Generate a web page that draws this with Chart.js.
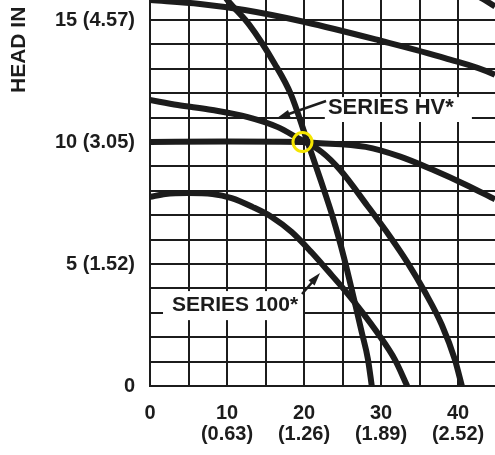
<!DOCTYPE html>
<html>
<head>
<meta charset="utf-8">
<script src="https://cdn.jsdelivr.net/npm/chart.js@4.4.1/dist/chart.umd.min.js"></script>
<style>
  html, body { margin: 0; padding: 0; background: #fff; }
  #wrap { width: 495px; height: 455px; }
</style>
</head>
<body>
<div id="wrap"><canvas id="pumpChart" width="495" height="455"></canvas></div>
<script>
// axis labels (US units with metric in brackets)
const flowTicks = [0, 10, 20, 30, 40];
const flowMetric = ['', '(0.63)', '(1.26)', '(1.89)', '(2.52)'];
const headTicks = [0, 5, 10, 15];
const headMetric = ['', '(1.52)', '(3.05)', '(4.57)'];

// pump curves, [flow, head]
const curveTop = [[0, 15.82], [6.5, 15.66], [12.3, 15.41], [20.1, 14.92], [29.6, 14.18], [38.3, 13.44], [44.8, 12.75], [46, 12.5]];
const curveCorner = [[41, 16.25], [43.3, 15.85], [44.8, 15.55], [46.5, 15.2]];
const curveSteep = [[8.2, 16.6], [10.1, 15.8], [12.9, 14.8], [16.2, 13.2], [18.3, 11.95], [20.3, 10.15], [22.2, 8.4], [23.8, 6.85], [25.2, 5.25], [26.5, 3.55], [27.5, 2.2], [28.3, 1.1], [28.8, 0]];
const curveFlat = [[0, 10.0], [10, 10.02], [19.9, 10.0], [21.2, 9.97], [28, 9.8], [32.5, 9.4], [36.8, 8.85], [41, 8.25], [44.8, 7.65]];
const curveHV = [[0, 11.72], [3.6, 11.52], [8.1, 11.31], [12.7, 11.02], [16.6, 10.61], [19.2, 10.16], [22.3, 9.59], [24.7, 8.85], [28.2, 7.4], [31.2, 6.11], [33.4, 5.08], [35.7, 3.85], [37.9, 2.5], [39.6, 1.07], [40.5, 0]];
const curve100 = [[0, 7.75], [2, 7.87], [4.9, 7.91], [8.1, 7.87], [10.6, 7.7], [13.3, 7.34], [15.8, 6.93], [18.4, 6.31], [21, 5.47], [23.1, 4.72], [25.3, 3.92], [27.5, 3.05], [29.6, 2.15], [31.8, 1.08], [33.4, 0]];
const markedPoint = [[19.8, 10.0]];

const INK = '#1c1c1c';
const FONT = "'Liberation Sans', Arial, sans-serif";

// callouts, in data units
const notes = [
    { text: 'SERIES HV*', size: 22, at: [23.1, 11.39], box: [22.7, 41.8, 11.84, 10.82], arrow: [[22.86, 11.68], [16.5, 10.98]] },
    { text: 'SERIES 100*', size: 21, at: [2.86, 3.32], box: [1.69, 19.87, 3.89, 2.70], arrow: [[19.74, 3.77], [22.08, 4.63]] }
];

function toPoints(list) {
    return list.map(p => ({ x: p[0], y: p[1] }));
}

function pumpLine(list) {
    return {
        data: toPoints(list),
        borderColor: INK,
        borderWidth: 6,
        pointRadius: 0,
        fill: false,
        cubicInterpolationMode: 'monotone'
    };
}

function drawArrow(ctx, x1, y1, x2, y2) {
    const angle = Math.atan2(y2 - y1, x2 - x1);
    const len = 13;
    ctx.beginPath();
    ctx.moveTo(x1, y1);
    ctx.lineTo(x2 - Math.cos(angle) * len * 0.6, y2 - Math.sin(angle) * len * 0.6);
    ctx.stroke();
    ctx.beginPath();
    ctx.moveTo(x2, y2);
    ctx.lineTo(x2 - len * Math.cos(angle) + 4 * Math.sin(angle), y2 - len * Math.sin(angle) - 4 * Math.cos(angle));
    ctx.lineTo(x2 - len * Math.cos(angle) - 4 * Math.sin(angle), y2 - len * Math.sin(angle) + 4 * Math.cos(angle));
    ctx.closePath();
    ctx.fill();
}

const notesPlugin = {
    id: 'pumpNotes',
    beforeDatasetsDraw(chart) {
        const { ctx, scales: { x, y } } = chart;
        ctx.save();
        notes.forEach(n => {
            const left = x.getPixelForValue(n.box[0]);
            const right = x.getPixelForValue(n.box[1]);
            const top = y.getPixelForValue(n.box[2]);
            const bottom = y.getPixelForValue(n.box[3]);
            ctx.fillStyle = '#fff';
            ctx.fillRect(left, top, right - left, bottom - top);
            ctx.fillStyle = INK;
            ctx.font = `bold ${n.size}px ${FONT}`;
            ctx.textBaseline = 'middle';
            ctx.textAlign = 'left';
            ctx.fillText(n.text, x.getPixelForValue(n.at[0]), y.getPixelForValue(n.at[1]));
        });
        ctx.restore();
    },
    afterDatasetsDraw(chart) {
        const { ctx, scales: { x, y } } = chart;
        ctx.save();
        ctx.strokeStyle = INK;
        ctx.fillStyle = INK;
        ctx.lineWidth = 2.5;
        notes.forEach(n => {
            const [from, to] = n.arrow;
            drawArrow(ctx, x.getPixelForValue(from[0]), y.getPixelForValue(from[1]),
                x.getPixelForValue(to[0]), y.getPixelForValue(to[1]));
        });
        ctx.restore();
    },
    afterDraw(chart) {
        // y axis title, cropped at the top like the scan
        const ctx = chart.ctx;
        ctx.save();
        ctx.translate(25, chart.chartArea.top + 93);
        ctx.rotate(-Math.PI / 2);
        ctx.fillStyle = INK;
        ctx.font = `bold 21px ${FONT}`;
        ctx.textAlign = 'left';
        ctx.textBaseline = 'alphabetic';
        ctx.fillText('HEAD IN FEET (METERS)', 0, 0);
        ctx.restore();
    }
};

function drawPumpChart() {
    const ctx = document.getElementById('pumpChart').getContext('2d');

    new Chart(ctx, {
        type: 'line',
        data: {
            datasets: [
                {
                    type: 'scatter',
                    data: toPoints(markedPoint),
                    pointRadius: 9.5,
                    pointBorderWidth: 3,
                    pointBorderColor: 'rgb(245, 230, 0)',
                    pointBackgroundColor: 'rgba(0,0,0,0)',
                    showLine: false
                },
                pumpLine(curveTop),
                pumpLine(curveCorner),
                pumpLine(curveSteep),
                pumpLine(curveFlat),
                pumpLine(curveHV),
                pumpLine(curve100)
            ]
        },
        options: {
            responsive: false,
            animation: false,
            devicePixelRatio: 1,
            layout: { padding: 0, autoPadding: false },
            plugins: {
                legend: { display: false },
                tooltip: { enabled: false }
            },
            scales: {
                x: {
                    type: 'linear',
                    min: 0,
                    max: 44.8,
                    grid: { color: INK, lineWidth: 2, drawTicks: false },
                    border: { color: INK, width: 2 },
                    ticks: {
                        stepSize: 5,
                        includeBounds: false,
                        autoSkip: false,
                        maxRotation: 0,
                        padding: 17,
                        color: INK,
                        font: { family: FONT, size: 20, weight: 'bold', lineHeight: 1.05 },
                        callback: function(value) {
                            const i = flowTicks.indexOf(value);
                            if (i < 0) return '';
                            return flowMetric[i] ? [String(value), flowMetric[i]] : String(value);
                        }
                    },
                    afterFit: function(scale) {
                        scale.height = 69;
                        scale.paddingLeft = 0;
                        scale.paddingRight = 0;
                    }
                },
                y: {
                    type: 'linear',
                    min: 0,
                    max: 15.82,
                    grid: { color: INK, lineWidth: 2, drawTicks: false },
                    border: { color: INK, width: 2 },
                    ticks: {
                        stepSize: 1,
                        includeBounds: false,
                        autoSkip: false,
                        padding: 15,
                        color: INK,
                        font: { family: FONT, size: 20, weight: 'bold' },
                        callback: function(value) {
                            const i = headTicks.indexOf(value);
                            if (i < 0) return '';
                            return headMetric[i] ? `${value} ${headMetric[i]}` : String(value);
                        }
                    },
                    afterFit: function(scale) {
                        scale.width = 150;
                        scale.paddingTop = 0;
                        scale.paddingBottom = 0;
                    }
                }
            }
        },
        plugins: [notesPlugin]
    });
}

document.addEventListener('DOMContentLoaded', drawPumpChart);
</script>
</body>
</html>
